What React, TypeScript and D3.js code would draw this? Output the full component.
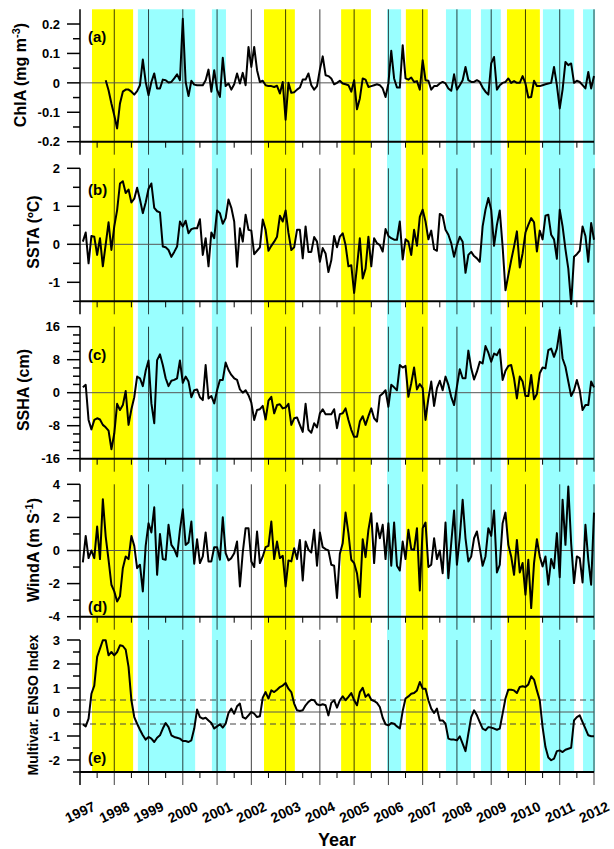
import React from 'react';
import * as d3 from 'd3';

// ---------- DATA ----------
const yearTicks = [1997, 1998, 1999, 2000, 2001, 2002, 2003, 2004, 2005, 2006, 2007, 2008, 2009, 2010, 2011, 2012];

const yellowBands: [number, number][] = [
  [1997.35, 1998.55], [2002.37, 2003.27], [2004.62, 2005.49], [2006.51, 2007.15], [2009.46, 2010.42],
];
const cyanBands: [number, number][] = [
  [1998.69, 2000.36], [2000.85, 2001.26], [2005.96, 2006.37], [2007.68, 2008.41],
  [2008.70, 2009.28], [2010.51, 2011.42], [2011.68, 2012.03],
];

// monthly series; first value at (1997 + startMonth/12)
const chlaStart = 9;
const chla = [
  0.009, -0.025, -0.07, -0.11, -0.155, -0.07, -0.03, -0.023, -0.023, -0.03, -0.04, -0.028, -0.008, 0.079, 0.003,
  -0.042, 0.003, 0.032, -0.019, -0.019, 0.011, 0.009, 0.001, 0.003, 0.015, 0.029, 0.009, 0.218, 0.003, -0.045,
  0.007, -0.006, -0.008, -0.008, -0.008, 0.009, 0.045, -0.03, 0.043, -0.023, -0.048, 0.085, -0.011, -0.002, -0.023,
  -0.005, 0.032, -0.002, 0.034, -0.008, 0.122, 0.054, 0.122, 0.043, 0.003, 0.007, -0.008, -0.011, -0.011, -0.014,
  -0.01, -0.036, 0.003, -0.125, 0, -0.034, -0.032, -0.023, -0.016, 0.011, 0.011, 0.032, -0.008, -0.023, -0.011,
  0.045, 0.09, 0.026, 0.023, 0.015, -0.005, 0, 0.007, -0.002, -0.005, -0.008, -0.03, 0.009, -0.09, -0.053,
  0.015, 0.011, -0.014, -0.011, -0.008, -0.005, -0.008, -0.019, -0.048, -0.002, 0.109, 0.015, -0.016, -0.016, 0.128,
  0.015, 0.011, 0.018, 0.003, 0.006, -0.023, 0.077, 0.009, 0.007, -0.023, -0.011, -0.011, -0.002, 0.003, -0.002,
  -0.019, -0.027, 0.029, -0.023, -0.008, 0.009, 0.054, 0.009, 0.003, 0.003, 0.009, 0.003, -0.016, -0.03, -0.04,
  0.066, 0.088, -0.023, -0.008, 0, 0.003, 0.015, 0, 0.006, 0, 0, 0.023, -0.002, -0.05, -0.048,
  0.007, -0.011, -0.011, -0.008, -0.005, -0.002, 0, 0.054, -0.008, -0.087, -0.023, 0.071, 0.06, 0.066, 0,
  0.007, 0.003, -0.008, -0.019, 0.037, -0.019, 0.023,
];

const seriesStart = 1;
const ssta = [
  0.07, 0.31, -0.5, 0.22, 0.2, -0.28, 0.16, -0.58, 0.0, 0.58, -0.15, 0.47, 0.9, 1.6, 1.66,
  1.35, 1.44, 1.1, 1.2, 1.49, 1.18, 0.82, 1.1, 1.46, 1.6, 0.96, 0.87, 0.84, -0.06, -0.08,
  -0.15, -0.33, -0.2, -0.06, 0.6, 0.47, 0.62, 0.29, 0.4, 0.42, 0.42, 0.66, -0.28, 0.16, -0.58,
  0.31, 0.16, 0.89, 0.82, 0.54, 0.69, 1.18, 0.96, 0.6, -0.59, 0.42, 0.07, 0.78, 0.38, 0.36,
  -0.26, -0.17, -0.08, 0.65, 0.38, -0.17, -0.04, 0.07, 0.2, 0.75, 0.6, 0.89, 0.3, -0.15, -0.08,
  0.38, 0.38, -0.37, 0.47, -0.2, -0.2, 0.19, 0.07, -0.46, -0.1, -0.24, -0.73, -0.42, 0.22, -0.08,
  0.2, 0.29, -0.02, -0.58, -0.55, -1.28, -0.59, 0.16, -0.9, -0.64, 0.2, -0.58, 0.16, 0.03, -0.02,
  -0.19, 0.4, 0.22, 0.16, 0.12, 0.12, 0.6, -0.4, 0.13, 0.07, -0.28, 0.38, -0.04, 0.72, 0.91,
  0.6, 0.13, 0.36, -0.13, -0.17, 0.8, 0.75, 0.38, 0.25, 0.03, -0.33, -0.02, 0.2, 0.07, -0.75,
  -0.28, -0.2, -0.31, -0.37, -0.46, 0.47, 0.91, 1.22, 0.91, -0.04, 0.51, 0.89, -0.06, -1.21, -0.81,
  -0.42, -0.06, 0.34, -0.61, -0.24, 0.31, 0.51, 0.69, 0.58, -0.19, 0.36, 0.13, 0.75, 0.78, 0.25,
  0.13, -0.38, 0.91, 0.47, -0.13, -0.64, -1.57, -0.33, -0.26, -0.17, 0.47, 0.22, -0.46, 0.56, 0.12,
];

const ssha = [
  1.3, 1.9, -6.6, -8.9, -6.6, -6.2, -6.5, -7.8, -8.4, -9.2, -13.7, -9.9, -2.7, -4.2, -3,
  0.4, -7.8, -4, -1.1, 3.9, 3.5, 1.6, 5.3, 7.8, -2.6, -7.4, 7.9, 9.3, 6.7, 3.5,
  1.6, 2.9, 3.1, 3.5, 7.8, 2.4, 3.9, 2.7, -1.1, 0.6, 0.8, -1.1, -1.8, 6.7, -1.4,
  -0.8, -2.6, 0.6, 3.1, 3.1, 7.3, 5.5, 4.3, 3.5, 3.1, 0.8, 0, 0.6, -0.6, -2.4,
  -6.6, -4.2, -4, -3.2, -6.5, -1.9, -1, -5, -3, -2.8, -3.8, -3.6, -2.7, -7.8, -6.2,
  -6, -7.8, -9.5, -2.7, -9, -9.7, -7.4, -8.4, -5, -4, -5.2, -5.2, -5.2, -4, -8.6,
  -5.2, -5, -3.8, -6.6, -9, -10.7, -10.7, -7, -5.7, -7.8, -5.7, -3.8, -6.2, -7, -0.8,
  -0.2, 0.6, -3.4, 1.9, 1.3, 0.6, 6.7, 6.1, 6.5, -1, 2.3, 6.1, 0.8, 2.1, 1.1,
  -6.6, -1.4, 2.7, -3.2, 1.1, 2.9, 0.6, 3.9, 1.9, -1, -3, 1.5, 5.7, 3.5, 3.5,
  10.2, 5.9, 3.2, 5.1, 7.5, 7.1, 11.3, 9.7, 7.5, 9.5, 9.1, 10.5, 3.1, 5.3, 6.5,
  6.7, 3.5, -1.4, 3.9, 2.7, -0.8, -0.8, 4.3, -1.6, -0.3, 4.7, 6.1, 5.9, 10.3, 10.7,
  8.7, 10.7, 15.2, 8.3, 6.3, 2.7, -0.8, 0.6, 3.1, 0.6, -4.2, -3, -3, 2.7, 1.3,
];

const winda = [
  -0.72, 0.88, -0.46, 0, -0.46, 1.45, -0.52, 3.1, 0.84, -0.56, -2.07, -2.47, -3.08, -2.77, -1.07,
  -0.36, -0.52, 0.88, 0.28, -1.07, -0.86, -2.47, 0.28, 1.65, 1.09, 2.61, -1.47, 1.0, -0.52, -0.56,
  1.55, 0.34, 0.08, -0.36, 1.25, 2.49, 0.34, 0.48, 1.75, -0.8, 0.68, -0.76, -0.36, 1.09, -0.66,
  -0.66, 0.2, 0.2, -0.56, 2.01, -0.16, -0.6, -0.46, -0.16, 0.54, -2.17, -0.12, 1.35, 1.35, -0.66,
  -1.0, 1.15, -0.76, -0.36, 0.2, 0.28, 1.75, -0.52, 0.54, -0.46, -0.32, -2.17, -0.6, -0.66, 0.14,
  -0.52, 0.64, -1.81, 0.54, 0.04, -0.12, 1.25, -0.92, 1.09, 0.2, 0.08, 0, -0.86, -0.92, -2.87,
  -0.2, 0.44, 2.29, 1.05, -0.56, -0.76, -1.37, -2.81, 0.68, -0.4, 1.25, 2.25, -0.76, 1.65, 0.74,
  1.55, -0.52, 1.65, -0.92, 1.69, -0.92, -1.21, 0.54, -0.52, 1.25, 0.08, 0.04, 1.35, -2.41, 1.35,
  1.69, -1.0, -0.86, 0.74, -0.52, 0, -1.37, 1.69, -1.67, 0.44, 2.41, -0.86, 0.8, 3.06, 0.74,
  -0.66, -0.36, 0.74, 1.15, 0.14, -0.92, -0.36, 1.35, 0.88, 2.41, -1.33, -0.86, 1.65, 2.29, 0.34,
  -0.36, -1.47, 0.64, -1.33, -0.76, -2.67, -0.56, -3.48, -0.76, 0.68, -0.36, -0.96, -0.36, -2.07, -0.52,
  -1.07, 1.05, -1.61, 3.06, 0.34, 3.86, 0.44, -1.97, -0.36, -0.46, -1.93, 1.55, -0.56, -2.07, 2.29,
];

const mei = [
  -0.51, -0.6, -0.28, 0.76, 1.1, 2.3, 2.64, 2.99, 2.99, 2.36, 2.5, 2.36, 2.5, 2.78, 2.75,
  2.6, 1.88, 0.49, -0.21, -0.49, -0.74, -0.97, -1.15, -1.04, -1.11, -1.25, -1.07, -0.97, -0.69, -0.46,
  -0.63, -0.97, -1.04, -1.07, -1.11, -1.21, -1.21, -1.25, -1.18, -0.69, 0.1, -0.21, -0.28, -0.24, -0.35,
  -0.46, -0.69, -0.6, -0.51, -0.65, -0.49, -0.04, 0.14, -0.07, 0.24, 0.35, -0.21, -0.28, -0.14, 0,
  -0.07, -0.21, -0.18, 0.6, 0.83, 0.56, 0.9, 0.83, 0.93, 1.04, 1.1, 1.21, 0.97, 0.83, 0.35,
  0.07, 0.04, 0.07, 0.28, 0.42, 0.51, 0.49, 0.32, 0.28, 0.32, 0.28, -0.14, 0.38, 0.49, 0.18,
  0.49, 0.65, 0.49, 0.63, 0.79, 0.49, 0.28, 0.83, 1.01, 0.63, 0.74, 0.51, 0.46, 0.38, 0.21,
  -0.24, -0.51, -0.56, -0.46, -0.49, -0.6, -0.69, 0.04, 0.56, 0.65, 0.76, 0.79, 0.9, 1.25, 0.97,
  0.97, 0.49, 0.14, -0.04, 0.14, -0.35, -0.35, -0.49, -1.11, -1.15, -1.15, -1.18, -1.01, -1.32, -1.63,
  -0.9, -0.21, 0.07, -0.14, -0.42, -0.69, -0.76, -0.63, -0.65, -0.69, -0.74, -0.69, -0.07, 0.56, 0.93,
  0.93, 0.9, 0.79, 1.04, 1.07, 1.04, 1.15, 1.49, 1.35, 0.9, 0.49, -0.63, -1.46, -1.9, -2.01,
  -1.94, -1.63, -1.6, -1.67, -1.57, -1.53, -1.49, -0.35, -0.21, -0.14, -0.42, -0.69, -0.97, -1.01, -1.01,
];

const meiThresholds = [0.5, -0.5];

// ---------- LAYOUT ----------
const W = 614;
const H = 849;
const FONT = '"Liberation Sans", Arial, Helvetica, sans-serif';
const x = d3.scaleLinear().domain([1997, 2012]).range([80, 594]);

type Panel = {
  values: number[];
  start: number;
  domain: [number, number];
  range: [number, number];
  major: number[];
  minor: number[];
  tag: string;
  tagY: number;
  ylabel: React.ReactNode;
  ylabelX: number;
  ylabelY: number;
  ylabelSize: number;
};

const panels: Panel[] = [
  {
    values: chla, start: chlaStart, domain: [-0.2, 0.25], range: [141.7, 9.3],
    major: [-0.2, -0.1, 0, 0.1, 0.2], minor: [-0.15, -0.05, 0.05, 0.15],
    tag: '(a)', tagY: 42,
    ylabel: (<>ChlA (mg m<tspan dy={-6} fontSize={11}>-3</tspan><tspan dy={6}>)</tspan></>),
    ylabelX: 26, ylabelY: 75, ylabelSize: 16,
  },
  {
    values: ssta, start: seriesStart, domain: [-1.5, 2], range: [301.3, 168.3],
    major: [-1, 0, 1, 2], minor: [-1.5, -0.5, 0.5, 1.5],
    tag: '(b)', tagY: 195,
    ylabel: 'SSTA (ºC)', ylabelX: 39, ylabelY: 232, ylabelSize: 16,
  },
  {
    values: ssha, start: seriesStart, domain: [-16, 16], range: [458.7, 326.7],
    major: [-16, -8, 0, 8, 16], minor: [-14, -12, -10, -6, -4, -2, 2, 4, 6, 10, 12, 14],
    tag: '(c)', tagY: 360,
    ylabel: 'SSHA (cm)', ylabelX: 29, ylabelY: 390, ylabelSize: 16,
  },
  {
    values: winda, start: seriesStart, domain: [-4, 4], range: [616.7, 484.3],
    major: [-4, -2, 0, 2, 4], minor: [-3, -1, 1, 3],
    tag: '(d)', tagY: 612,
    ylabel: (<>WindA (m S<tspan dy={-6} fontSize={11}>-1</tspan><tspan dy={6}>)</tspan></>),
    ylabelX: 39, ylabelY: 550, ylabelSize: 16,
  },
  {
    values: mei, start: seriesStart, domain: [-2.5, 3], range: [772, 640],
    major: [-2, -1, 0, 1, 2, 3], minor: [-2.5, -1.5, -0.5, 0.5, 1.5, 2.5],
    tag: '(e)', tagY: 763,
    ylabel: 'Multivar. ENSO Index', ylabelX: 38, ylabelY: 705, ylabelSize: 14,
  },
];

const BAND_TOP = 9.3;
const BAND_BOTTOM = 772;

export default function App() {
  const halfYears = yearTicks.slice(0, -1).map((y) => y + 0.5);
  return (
    <svg
      width={W}
      height={H}
      viewBox={`0 0 ${W} ${H}`}
      style={{ position: 'absolute', left: 0, top: 0, display: 'block', background: '#fff' }}
      fontFamily={FONT}
    >
      <rect x={0} y={0} width={W} height={H} fill="#fff" />
      {/* bands */}
      {yellowBands.map(([a, b], i) => (
        <rect key={'y' + i} x={x(a)} y={BAND_TOP} width={x(b) - x(a)} height={BAND_BOTTOM - BAND_TOP} fill="#ffff00" />
      ))}
      {cyanBands.map(([a, b], i) => (
        <rect key={'c' + i} x={x(a)} y={BAND_TOP} width={x(b) - x(a)} height={BAND_BOTTOM - BAND_TOP} fill="#99ffff" />
      ))}

      {panels.map((p, pi) => {
        const y = d3.scaleLinear().domain(p.domain).range(p.range);
        const top = p.range[1];
        const bottom = p.range[0];
        const pts: [number, number][] = p.values.map((v, i) => [1997 + (p.start + i) / 12, v]);
        const line = d3
          .line<[number, number]>()
          .x((d) => x(d[0]))
          .y((d) => y(d[1]));
        return (
          <g key={pi}>
            {/* year grid lines + ticks below */}
            {yearTicks.map((yr) => (
              <line
                key={'g' + yr}
                x1={x(yr)}
                x2={x(yr)}
                y1={yr === 1997 ? bottom : top}
                y2={bottom + 13}
                stroke="#000"
                strokeOpacity={yr === 1997 ? 1 : 0.75}
                strokeWidth={yr === 1997 ? 1.5 : 1}
              />
            ))}
            {halfYears.map((yr) => (
              <line key={'h' + yr} x1={x(yr)} x2={x(yr)} y1={bottom} y2={bottom + 6} stroke="#000" strokeWidth={1} />
            ))}
            {/* zero line */}
            <line x1={x(1997)} x2={x(2012)} y1={y(0)} y2={y(0)} stroke="#555" strokeWidth={1} />
            {pi === 4 &&
              meiThresholds.map((t) => (
                <line
                  key={'t' + t}
                  x1={x(1997)}
                  x2={x(2012)}
                  y1={y(t)}
                  y2={y(t)}
                  stroke="#444"
                  strokeWidth={1}
                  strokeDasharray="6,4"
                />
              ))}
            {/* series */}
            <path d={line(pts) || ''} fill="none" stroke="#000" strokeWidth={2} strokeLinejoin="round" />
            {/* axes */}
            <line x1={x(1997)} x2={x(1997)} y1={top} y2={bottom} stroke="#000" strokeWidth={1.5} />
            <line x1={x(1997)} x2={x(2012)} y1={bottom} y2={bottom} stroke="#000" strokeWidth={2} />
            {p.major.map((v) => (
              <g key={'M' + v}>
                <line x1={x(1997) - 13} x2={x(1997)} y1={y(v)} y2={y(v)} stroke="#000" strokeWidth={1.5} />
                <text
                  x={60}
                  y={y(v)}
                  dy="0.36em"
                  textAnchor="end"
                  fontSize={13}
                  fontWeight="bold"
                  fill="#000"
                >
                  {String(v)}
                </text>
              </g>
            ))}
            {p.minor.map((v) => (
              <line key={'m' + v} x1={x(1997) - 7} x2={x(1997)} y1={y(v)} y2={y(v)} stroke="#000" strokeWidth={1.5} />
            ))}
            {/* panel tag */}
            <text x={88} y={p.tagY} fontSize={15} fontWeight="bold" fill="#000">
              {p.tag}
            </text>
            {/* y label */}
            <text
              transform={`translate(${p.ylabelX},${p.ylabelY}) rotate(-90)`}
              textAnchor="middle"
              fontSize={p.ylabelSize}
              fontWeight="bold"
              fill="#000"
            >
              {p.ylabel}
            </text>
          </g>
        );
      })}

      {/* year labels */}
      {yearTicks.map((yr) => (
        <text
          key={'yl' + yr}
          transform={`translate(${x(yr)},${812}) rotate(-25)`}
          textAnchor="middle"
          dy="0.36em"
          fontSize={14}
          fontWeight="bold"
          fill="#000"
        >
          {String(yr)}
        </text>
      ))}
      <text x={337} y={846} textAnchor="middle" fontSize={18} fontWeight="bold" fill="#000">
        Year
      </text>
    </svg>
  );
}
